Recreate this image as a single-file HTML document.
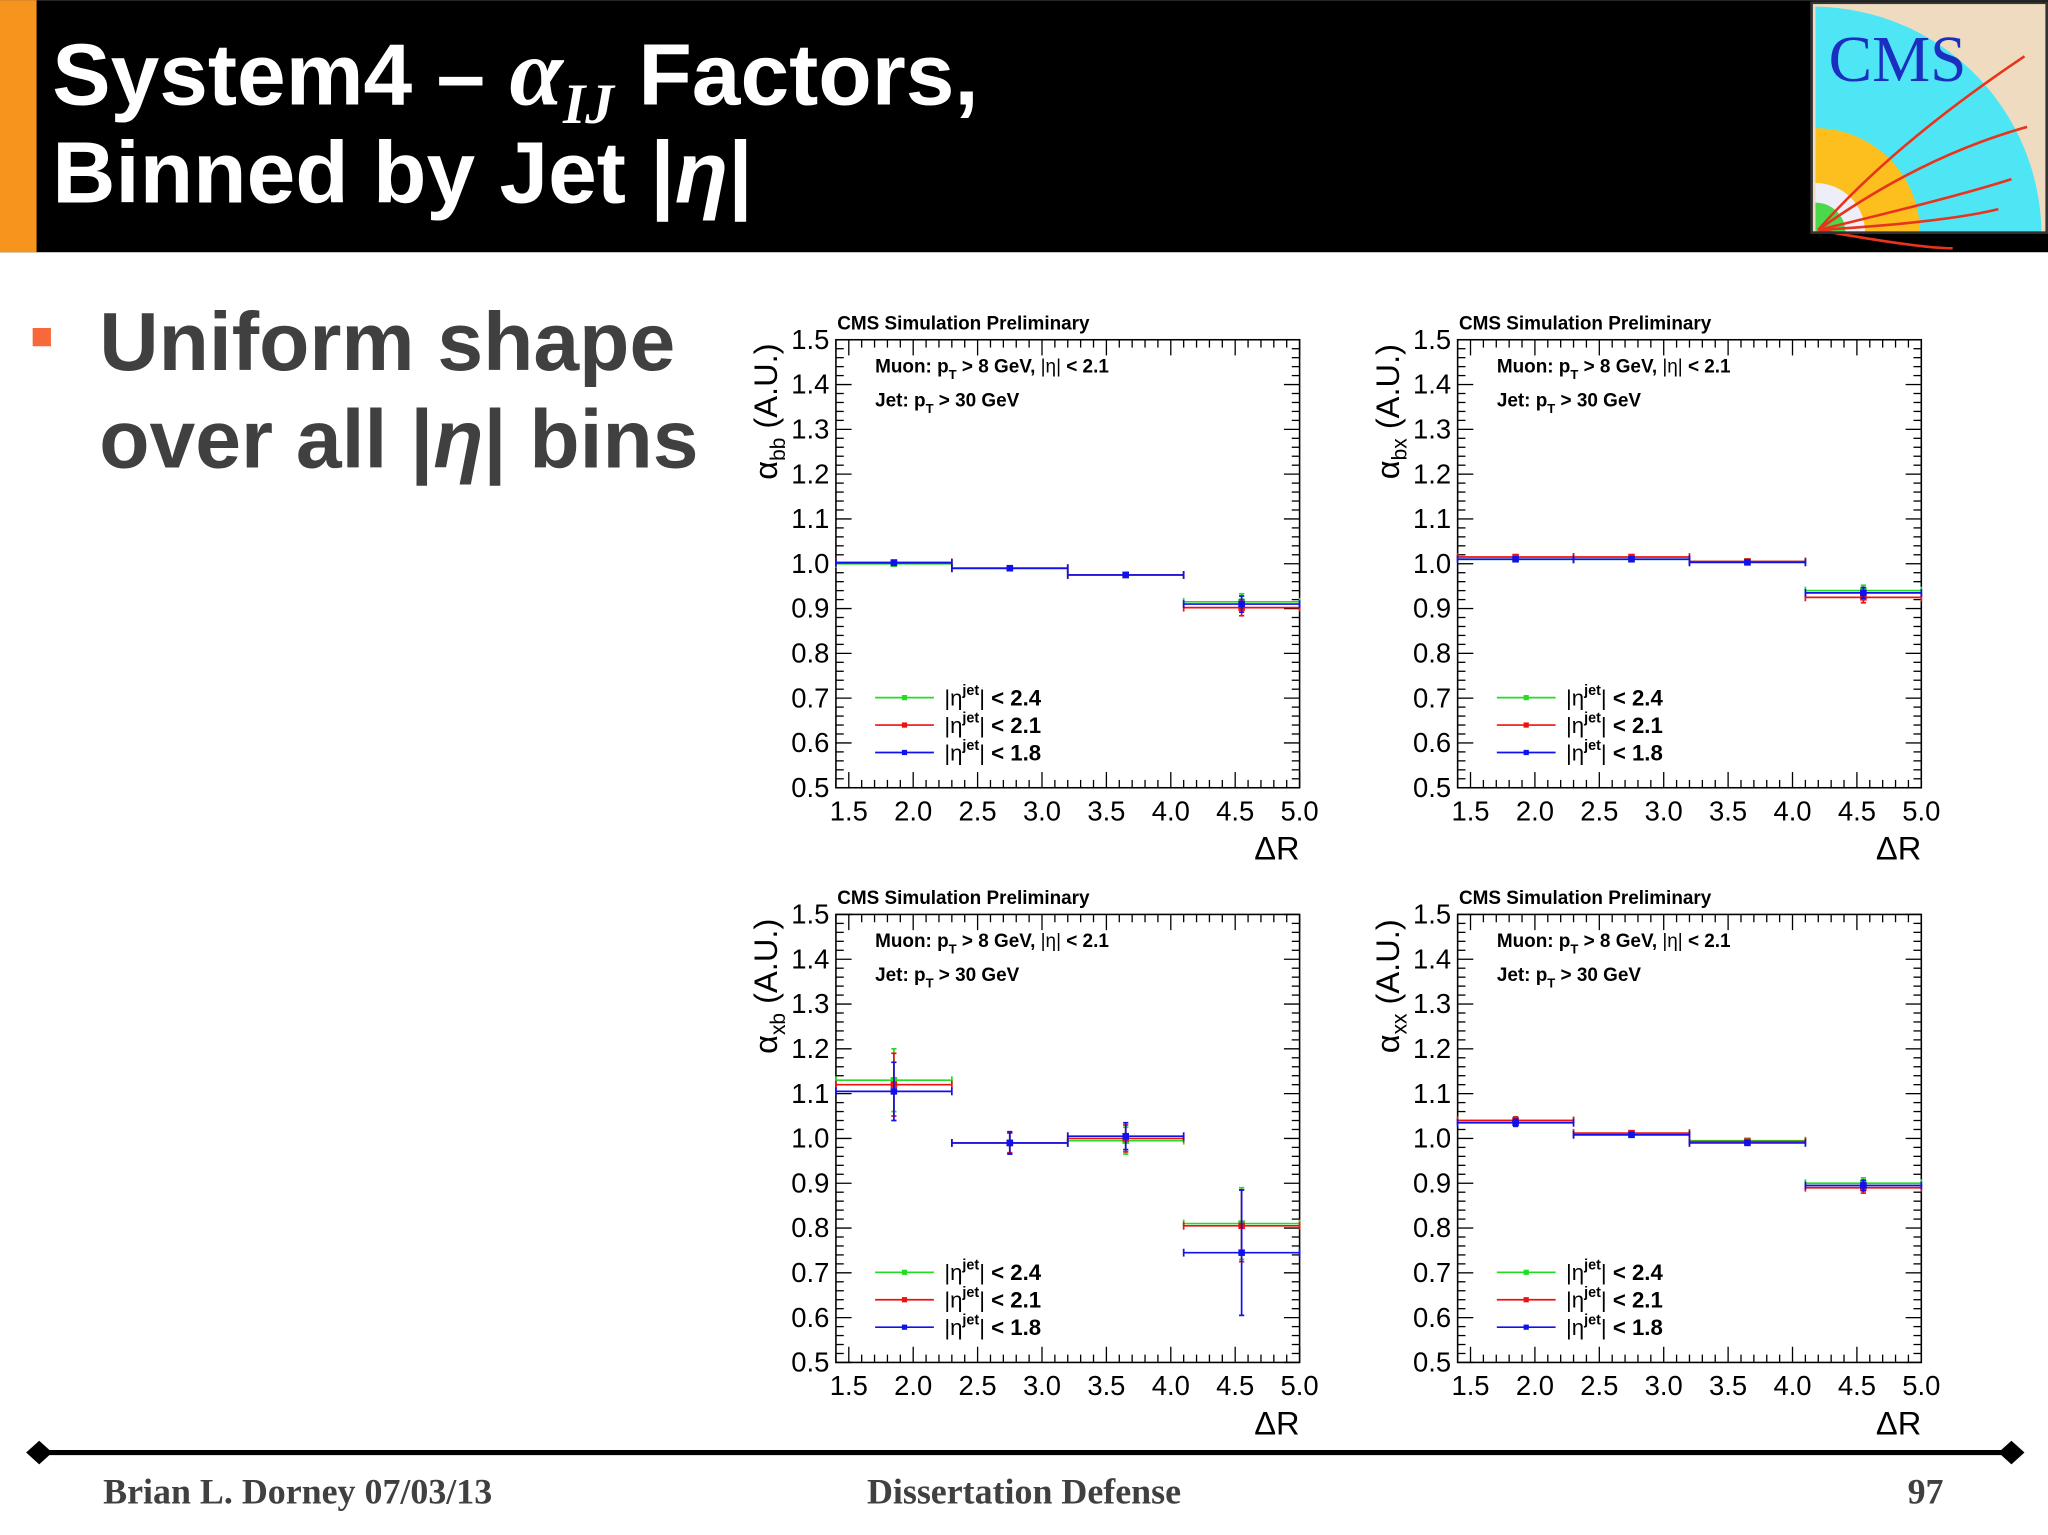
<!DOCTYPE html>
<html><head><meta charset="utf-8"><style>
html,body{margin:0;padding:0;background:#fff}
svg{display:block}
text{font-family:"Liberation Sans",sans-serif}
text.serif,tspan.serif{font-family:"Liberation Serif",serif}
</style></head><body>
<svg id="root" width="2048" height="1535" viewBox="0 0 1568 1175" xmlns="http://www.w3.org/2000/svg">
<rect x="0" y="0" width="1568" height="193" fill="#000"/>
<rect x="0" y="0" width="28" height="193" fill="#f7941d"/>
<text x="40" y="80" fill="#fff" font-size="67" font-weight="bold">System4 – <tspan class="serif" font-style="italic" font-size="74">α</tspan><tspan class="serif" font-style="italic" font-size="44" dy="14">IJ</tspan><tspan dy="-14"> Factors,</tspan></text>
<text x="40" y="155" fill="#fff" font-size="67" font-weight="bold">Binned by Jet |<tspan font-style="italic">η</tspan>|</text>
<g>
<rect x="1387" y="2" width="180" height="176" fill="#efdcc0"/>
<path d="M1390,178 L1390,5 A175,175 0 0 1 1563,178 Z" fill="#4ee6f5"/>
<path d="M1390,178 L1390,98 A80,80 0 0 1 1470,178 Z" fill="#fcbf1e"/>
<path d="M1390,178 L1390,140 A38,38 0 0 1 1428,178 Z" fill="#eeeef8"/>
<path d="M1390,178 L1390,155 A23,23 0 0 1 1413,178 Z" fill="#4bd84b"/>
<text class="serif" x="1400" y="62" fill="#1a2fc0" font-size="50">CMS</text>
<g stroke="#e8341c" stroke-width="2" fill="none">
<path d="M1392,176 Q1450,110 1550,43"/><path d="M1392,176 Q1470,120 1552,97"/><path d="M1392,176 Q1500,150 1540,137"/><path d="M1392,176 Q1490,170 1530,160"/><path d="M1392,176 Q1470,190 1495,190"/></g>
<rect x="1387" y="2" width="180" height="176" fill="none" stroke="#333" stroke-width="2"/>
</g>
<rect x="25" y="251" width="14" height="14" fill="#f7693a"/>
<text x="76" y="283" fill="#404040" font-size="63" font-weight="bold">Uniform shape</text>
<text x="76" y="358" fill="#404040" font-size="63" font-weight="bold">over all |<tspan font-style="italic">η</tspan>| bins</text>
<line x1="30" y1="1112" x2="1540" y2="1112" stroke="#000" stroke-width="4"/>
<path d="M20,1112 L30,1103 L40,1112 L30,1121 Z M1530,1112 L1540,1103 L1550,1112 L1540,1121 Z" fill="#000"/>
<text class="serif" x="79" y="1151" font-weight="bold" font-size="27.5" fill="#404040">Brian L. Dorney 07/03/13</text>
<text class="serif" x="784" y="1151" text-anchor="middle" font-weight="bold" font-size="27.5" fill="#404040">Dissertation Defense</text>
<text class="serif" x="1488" y="1151" text-anchor="end" font-weight="bold" font-size="27.5" fill="#404040">97</text>
<g id="charts"></g>
</svg>
<script>
const binEdges = [1.4, 2.3, 3.2, 4.1, 5.0];
const seriesLabels = ["< 2.4", "< 2.1", "< 1.8"];
const xTicks = [1.5, 2.0, 2.5, 3.0, 3.5, 4.0, 4.5, 5.0];
const yTicks = [0.5, 0.6, 0.7, 0.8, 0.9, 1.0, 1.1, 1.2, 1.3, 1.4, 1.5];
const panelNames = ["bb", "bx", "xb", "xx"];
const bbGreen = [1.000, 0.990, 0.975, 0.915];
const bbRed = [1.003, 0.990, 0.975, 0.902];
const bbBlue = [1.002, 0.990, 0.975, 0.910];
const bbErr = [0.003, 0.003, 0.003, 0.018];
const bxGreen = [1.010, 1.010, 1.005, 0.940];
const bxRed = [1.015, 1.015, 1.005, 0.925];
const bxBlue = [1.010, 1.010, 1.003, 0.935];
const bxErr = [0.005, 0.005, 0.005, 0.012];
const xbGreen = [1.130, 0.990, 0.995, 0.810];
const xbRed = [1.120, 0.990, 1.000, 0.805];
const xbBlue = [1.105, 0.990, 1.005, 0.745];
const xbErr = [0.070, 0.022, 0.030, 0.080];
const xbBlueErr = [0.065, 0.025, 0.030, 0.140];
const xxGreen = [1.040, 1.010, 0.995, 0.900];
const xxRed = [1.040, 1.012, 0.993, 0.890];
const xxBlue = [1.035, 1.008, 0.990, 0.895];
const xxErr = [0.008, 0.005, 0.005, 0.012];

const NS = "http://www.w3.org/2000/svg";
const colors = ["#22dd22", "#ee1111", "#1111ee"];
const panels = [
  {name: "bb", x: 640, y: 260, s: [bbGreen, bbRed, bbBlue], e: [bbErr, bbErr, bbErr]},
  {name: "bx", x: 1116, y: 260, s: [bxGreen, bxRed, bxBlue], e: [bxErr, bxErr, bxErr]},
  {name: "xb", x: 640, y: 700, s: [xbGreen, xbRed, xbBlue], e: [xbErr, xbErr, xbBlueErr]},
  {name: "xx", x: 1116, y: 700, s: [xxGreen, xxRed, xxBlue], e: [xxErr, xxErr, xxErr]}
];
const W = 355, H = 343;
function mk(tag, attrs, parent, txt) {
  const el = document.createElementNS(NS, tag);
  for (const k in attrs) el.setAttribute(k, attrs[k]);
  if (txt !== undefined) el.textContent = txt;
  parent.appendChild(el);
  return el;
}
const root = document.getElementById("charts");
panels.forEach(p => {
  const g = mk("g", {}, root);
  
  
  const sx = v => p.x + (v - 1.4) / 3.6 * W;
  const sy = v => p.y + H - (v - 0.5) / 1.0 * H;
  for (let i = 0; i <= 36; i++) {
    const v = 1.4 + i * 0.1, X = sx(v);
    const major = Math.abs((v * 2) - Math.round(v * 2)) < 1e-6;
    const L = major ? 12 : 6;
    mk("line", {x1: X, y1: p.y + H, x2: X, y2: p.y + H - L, stroke: "#000", "stroke-width": 1}, g);
    mk("line", {x1: X, y1: p.y, x2: X, y2: p.y + L, stroke: "#000", "stroke-width": 1}, g);
  }
  for (let i = 0; i <= 50; i++) {
    const v = 0.5 + i * 0.02, Y = sy(v);
    const L = (i % 5 === 0) ? 12 : 6;
    mk("line", {x1: p.x, y1: Y, x2: p.x + L, y2: Y, stroke: "#000", "stroke-width": 1}, g);
    mk("line", {x1: p.x + W, y1: Y, x2: p.x + W - L, y2: Y, stroke: "#000", "stroke-width": 1}, g);
  }
  const fr = mk("rect", {x: p.x, y: p.y, width: W, height: H, fill: "none", stroke: "#000", "stroke-width": 1.2}, g);
  
  
  xTicks.forEach(t => {
    const tx = mk("text", {x: sx(t), y: p.y + H + 25, "text-anchor": "middle", "font-size": 21, fill: "#000"}, g, t.toFixed(1));
    
    
  });
  yTicks.forEach(t => {
    const ty = mk("text", {x: p.x - 5, y: sy(t) + 7, "text-anchor": "end", "font-size": 21, fill: "#000"}, g, t.toFixed(1));
    
    
  });
  const xt = mk("text", {x: p.x + W, y: p.y + H + 55, "text-anchor": "end", "font-size": 25, fill: "#000"}, g, "ΔR");
  
  
  const yt = mk("text", {transform: `translate(${p.x - 45},${p.y + 55}) rotate(-90)`, "text-anchor": "middle", "font-size": 25, fill: "#000"}, g);
  yt.innerHTML = `α<tspan font-size="16" dy="6">${p.name}</tspan><tspan dy="-6"> (A.U.)</tspan>`;
  
  
  const ct = mk("text", {x: p.x + 1, y: p.y - 8, "font-size": 14.5, "font-weight": "bold", fill: "#000"}, g, "CMS Simulation Preliminary");
  
  
  const m = mk("text", {x: p.x + 30, y: p.y + 25, "font-size": 14.5, "font-weight": "bold", fill: "#000"}, g);
  m.innerHTML = 'Muon: p<tspan font-size="10" dy="5">T</tspan><tspan dy="-5"> &gt; 8 GeV, </tspan><tspan font-weight="normal">|η|</tspan> &lt; 2.1';
  
  
  const j = mk("text", {x: p.x + 30, y: p.y + 51, "font-size": 14.5, "font-weight": "bold", fill: "#000"}, g);
  j.innerHTML = 'Jet: p<tspan font-size="10" dy="5">T</tspan><tspan dy="-5"> &gt; 30 GeV</tspan>';
  
  
  p.s.forEach((vals, si) => {
    const sg = mk("g", {stroke: colors[si], fill: colors[si], "stroke-width": 1.3}, g);
    
    
    vals.forEach((v, i) => {
      const x0 = sx(binEdges[i]), x1 = sx(binEdges[i + 1]), xc = (x0 + x1) / 2, Y = sy(v);
      const er = p.e[si][i];
      mk("line", {x1: x0, y1: Y, x2: x1, y2: Y}, sg);
      mk("line", {x1: x0, y1: Y - 3, x2: x0, y2: Y + 3}, sg);
      mk("line", {x1: x1, y1: Y - 3, x2: x1, y2: Y + 3}, sg);
      mk("line", {x1: xc, y1: sy(v + er), x2: xc, y2: sy(v - er)}, sg);
      mk("line", {x1: xc - 2, y1: sy(v + er), x2: xc + 2, y2: sy(v + er)}, sg);
      mk("line", {x1: xc - 2, y1: sy(v - er), x2: xc + 2, y2: sy(v - er)}, sg);
      const pt = mk("rect", {x: xc - 2.5, y: Y - 2.5, width: 5, height: 5, stroke: "none"}, sg);
      
      
    });
    const ly = p.y + 274 + si * 21;
    const le = mk("g", {}, g);
    
    
    mk("line", {x1: p.x + 30, y1: ly, x2: p.x + 75, y2: ly, stroke: colors[si], "stroke-width": 1.3}, le);
    mk("rect", {x: p.x + 50.5, y: ly - 2, width: 4, height: 4, fill: colors[si]}, le);
    const lt = mk("text", {x: p.x + 83, y: ly + 6, "font-size": 17, "font-weight": "bold", fill: "#000"}, le);
    lt.innerHTML = `<tspan font-weight="normal">|η</tspan><tspan font-size="11" dy="-8">jet</tspan><tspan font-weight="normal" dy="8">|</tspan> ${seriesLabels[si].replace('<', '&lt;')}`;
  });
});
</script>
</body></html>
